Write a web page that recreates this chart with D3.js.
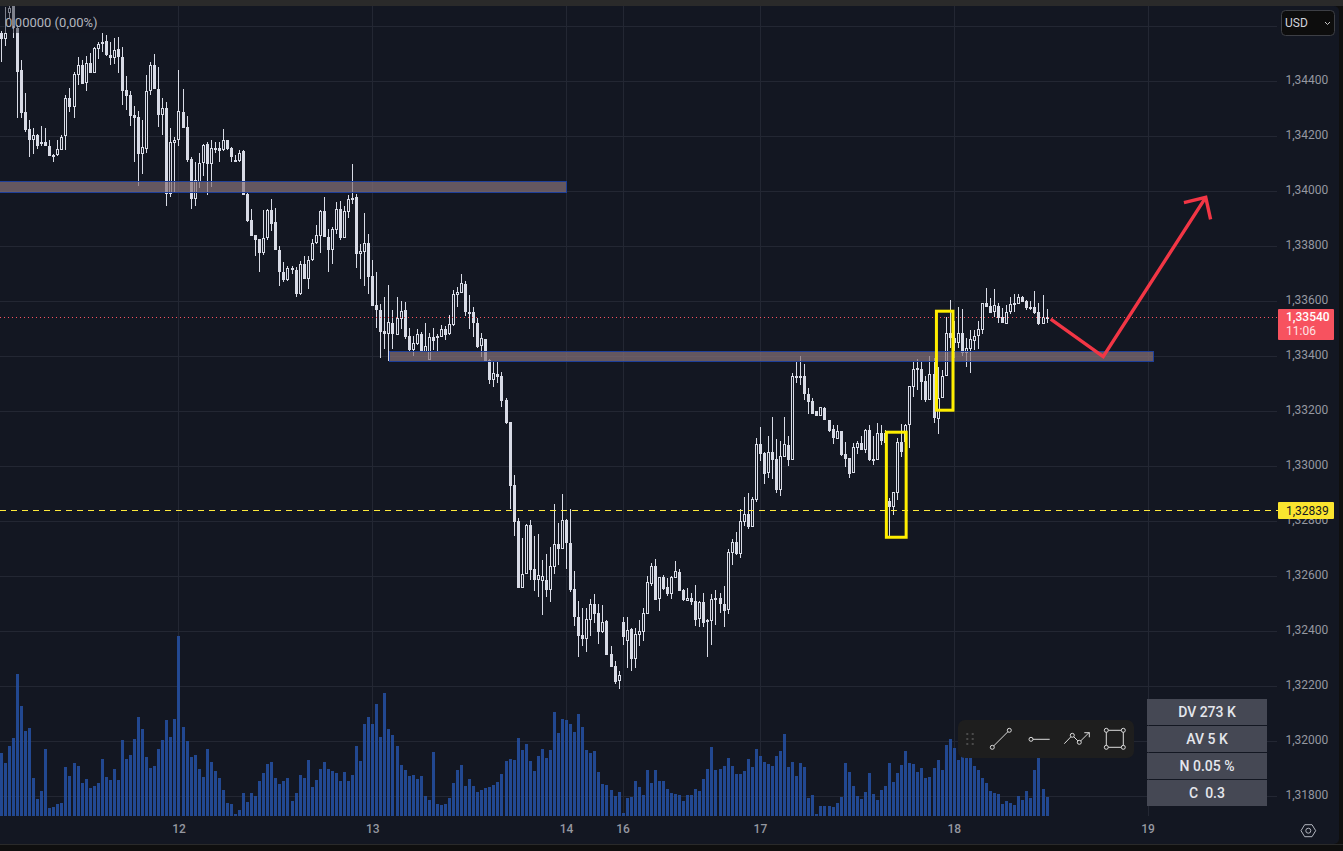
<!DOCTYPE html>
<html>
<head>
<meta charset="utf-8">
<script src="https://cdn.jsdelivr.net/npm/d3@7"></script>
<style>
  html, body { margin: 0; padding: 0; background: #0f0f0f; overflow: hidden; }
  svg { display: block; font-family: Roboto, sans-serif; }
</style>
</head>
<body>
<svg id="chart" width="1343" height="851"></svg>
<script>
// prices are in points: 133540 means 1,33540
const opens = [
  134575,134555,134648,134696,134593,134441,134288,134226,134186,134205,
  134178,134178,134165,134132,134132,134151,134200,134338,134308,134423,
  134460,134395,134467,134432,134517,134534,134547,134496,134485,134518,
  134489,134369,134351,134278,134271,134136,134155,134365,134460,134372,
  134278,134303,133991,134176,134185,134289,134234,134118,133972,134035,
  134102,134172,134100,134158,134157,134149,134186,134157,134114,134111,
  134147,133991,133896,133842,133827,133776,133831,133932,133889,133787,
  133707,133678,133720,133714,133627,133736,133682,133749,133811,133838,
  133928,133834,133787,133861,133936,133832,133925,133976,133979,133772,
  133779,133812,133692,133587,133569,133492,133481,133521,133478,133536,
  133569,133474,133423,133445,133481,133416,133387,133470,133474,133470,
  133499,133481,133514,133624,133630,133663,133561,133561,133521,133438,
  133463,133387,133314,133336,133329,133241,133161,132932,132801,132557,
  132608,132786,132626,132587,132583,132587,132550,132634,132717,132699,
  132805,132721,132554,132452,132387,132372,132441,132499,132467,132397,
  132437,132317,132274,132219,132434,132365,132408,132299,132387,132397,
  132463,132572,132637,132517,132597,132561,132536,132594,132616,132550,
  132510,132521,132510,132445,132506,132441,132437,132521,132521,132499,
  132477,132685,132725,132681,132797,132826,132779,132877,133081,133048,
  132976,133052,133026,132914,133034,133077,133023,133329,133329,133329,
  133263,133238,133201,133183,133212,133169,133136,133099,133129,133045,
  133030,132976,133067,133085,133060,133132,133027,133023,133121,133084,
  132874,132852,132903,133089,133089,133149,133289,133358,133354,133310,
  133241,133336,133172,133249,133329,133485,133467,133449,133485,133412,
  133427,133456,133474,133496,133594,133583,133561,133583,133543,133518,
  133561,133595,133590,133616,133601,133579,133579,133561,133518,133543
];
const highs = [
  134584,134669,134708,134702,134605,134478,134357,134260,134229,134209,
  134238,134229,134187,134135,134187,134206,134351,134375,134435,134489,
  134478,134492,134504,134526,134544,134577,134569,134544,134559,134560,
  134524,134420,134363,134311,134292,134260,134423,134469,134500,134451,
  134341,134326,134229,134199,134441,134372,134274,134124,134105,134138,
  134172,134178,134187,134181,134181,134226,134187,134161,134132,134151,
  134151,133997,133936,133842,133827,133932,133936,133971,133939,133802,
  133743,133729,133729,133726,133745,133763,133763,133827,133878,133932,
  133978,133862,133872,133962,133966,133947,133987,134099,133990,133809,
  133920,133845,133750,133707,133590,133616,133659,133569,133616,133601,
  133598,133503,133474,133499,133489,133521,133485,133503,133481,133514,
  133510,133550,133641,133652,133699,133674,133623,133579,133540,133485,
  133463,133390,133380,133380,133343,133249,133161,132968,132812,132739,
  132790,132805,132746,132754,132659,132681,132706,132863,132794,132899,
  132808,132845,132619,132510,132485,132485,132517,132536,132499,132496,
  132441,132347,132292,132256,132452,132452,132412,132412,132441,132485,
  132601,132648,132663,132597,132605,132594,132601,132656,132626,132554,
  132557,132539,132568,132510,132539,132445,132536,132550,132539,132565,
  132699,132736,132761,132845,132888,132903,132888,133103,133143,133052,
  133110,133179,133099,133092,133179,133110,133339,133379,133401,133372,
  133285,133249,133201,133216,133216,133169,133150,133150,133129,133089,
  133030,133085,133092,133110,133136,133150,133110,133158,133150,133132,
  132885,132907,133103,133154,133154,133292,133383,133390,133383,133329,
  133401,133394,133361,133350,133544,133605,133529,133579,133572,133467,
  133496,133496,133529,133594,133649,133612,133645,133594,133576,133587,
  133616,133627,133627,133619,133605,133601,133638,133594,133623,133572
];
const lows = [
  134472,134530,134629,134559,134268,134268,134217,134126,134134,134154,
  134163,134166,134130,134105,134129,134151,134152,134290,134268,134387,
  134391,134366,134432,134432,134480,134508,134492,134460,134463,134432,
  134314,134296,134238,134105,134020,134063,134141,134351,134372,134235,
  134205,133947,133981,133995,134163,134229,134108,133936,133947,134011,
  134056,133987,134017,134138,134108,134147,134151,134105,134111,134105,
  133988,133889,133838,133765,133705,133769,133823,133856,133785,133657,
  133671,133675,133700,133617,133623,133680,133646,133747,133808,133775,
  133833,133705,133736,133845,133823,133832,133904,133954,133721,133681,
  133656,133627,133583,133503,133394,133427,133383,133427,133478,133499,
  133463,133420,133401,133441,133416,133416,133387,133423,133420,133470,
  133459,133478,133510,133579,133630,133547,133499,133470,133430,133398,
  133380,133300,133289,133303,133216,133154,132845,132746,132557,132557,
  132608,132587,132547,132525,132459,132525,132507,132608,132641,132699,
  132626,132543,132419,132307,132347,132325,132383,132430,132354,132394,
  132314,132270,132208,132190,132350,132267,132256,132267,132347,132365,
  132463,132565,132514,132474,132550,132528,132517,132594,132546,132510,
  132510,132496,132419,132416,132416,132307,132350,132423,132467,132416,
  132463,132641,132677,132666,132783,132772,132779,132870,133019,132936,
  132957,132954,132903,132892,133034,133001,133023,133302,133296,133241,
  133190,133190,133183,133183,133169,133125,133081,133099,133038,132998,
  132958,132976,133045,133060,133049,133020,133005,133023,133078,133072,
  132747,132823,132878,133034,133084,133067,133253,133278,133241,133234,
  133241,133158,133118,133249,133329,133430,133394,133430,133401,133361,
  133339,133423,133427,133481,133579,133558,133543,133521,133521,133518,
  133554,133561,133590,133598,133569,133569,133554,133514,133518,133521
];
const closes = [
  134555,134575,134666,134593,134435,134286,134223,134185,134204,134165,
  134175,134166,134130,134130,134153,134198,134338,134308,134427,134460,
  134391,134466,134432,134520,134535,134542,134494,134485,134514,134488,
  134366,134347,134275,134267,134136,134161,134364,134460,134372,134278,
  134303,133991,134178,134186,134292,134229,134114,133972,134040,134102,
  134168,134100,134157,134154,134147,134186,134154,134125,134112,134138,
  133988,133892,133838,133823,133776,133831,133932,133882,133785,133705,
  133678,133720,133714,133627,133735,133682,133749,133811,133840,133928,
  133833,133787,133862,133936,133832,133929,133971,133969,133772,133783,
  133811,133689,133583,133569,133489,133481,133525,133481,133540,133565,
  133470,133423,133449,133481,133416,133438,133470,133456,133467,133499,
  133478,133518,133626,133634,133666,133561,133558,133521,133434,133467,
  133380,133314,133338,133325,133238,133158,132928,132797,132557,132608,
  132786,132623,132587,132605,132601,132550,132637,132717,132699,132805,
  132721,132550,132452,132383,132372,132445,132499,132463,132397,132434,
  132314,132270,132216,132241,132379,132405,132299,132390,132401,132467,
  132579,132637,132514,132597,132554,132536,132597,132619,132546,132514,
  132521,132506,132441,132506,132430,132434,132517,132514,132499,132474,
  132688,132725,132681,132801,132826,132779,132881,133081,133045,132972,
  133052,133023,132914,133037,133081,133023,133329,133326,133326,133263,
  133234,133190,133183,133216,133169,133129,133103,133129,133041,133027,
  132972,133070,133085,133060,133132,133023,133023,133121,133092,133121,
  132852,132906,133089,133052,133150,133292,133354,133354,133307,133241,
  133336,133176,133247,133329,133485,133467,133449,133485,133412,133430,
  133463,133474,133499,133594,133579,133558,133587,133539,133521,133561,
  133590,133592,133616,133598,133576,133576,133558,133518,133543,133540
];
const volumes = [
  63,53,70,78,142,110,85,88,38,17,
  25,67,8,9,12,13,49,40,53,50,
  33,37,28,30,33,57,39,36,47,36,
  76,57,61,77,99,87,59,48,50,67,
  76,96,79,97,180,89,75,59,61,47,
  39,67,54,45,38,26,13,12,2,6,
  23,14,23,20,35,43,52,54,38,32,
  35,38,15,23,41,38,56,29,36,47,
  54,47,45,43,35,44,35,41,70,55,
  92,99,92,112,79,123,87,81,70,51,
  46,40,41,37,40,20,16,64,12,11,
  12,18,33,46,51,30,37,30,24,26,
  28,29,31,34,42,55,57,56,78,66,
  72,55,45,60,67,58,66,104,83,97,
  96,92,84,102,89,66,63,65,44,32,
  31,26,20,24,3,18,19,35,29,21,
  46,33,46,35,35,27,23,22,21,15,
  21,21,27,25,37,47,69,46,47,50,
  58,50,42,42,45,57,49,67,60,54,
  52,50,60,65,82,49,54,40,53,49,
  18,21,2,10,10,10,9,13,19,53,
  44,30,20,17,24,43,22,16,26,30,
  53,34,43,51,65,53,52,44,48,38,
  39,48,56,46,71,77,68,56,60,62,
  60,50,46,38,33,25,23,22,12,15,
  13,11,20,16,25,18,46,58,27,19
];

const priceTicks = [131800,132000,132200,132400,132600,132800,133000,133200,133400,133600,133800,134000,134200,134400,134600];
const priceLabels = priceTicks.slice(0,-1); // the top line sits behind the USD button
const dayTicks = [44,92,140,154,188,236,284];
const dayLabels = ["12","13","14","16","17","18","19"];

const lastPrice = 133540;
const lastTimer = "11:06";
const linePrice = 132839;

// zones: [start bar, end bar, top price, bottom price]
const zones = [[-1,140,134035,133995],[96.1,285.2,133418,133380]];
// yellow boxes: [start bar, end bar, top price, bottom price]
const boxes = [[219.2,224.1,133124,132742],[231.6,235.7,133564,133204]];
// red arrow [bar, price]
const arrowPath = [[259.9,133535],[272.9,133399],[298.3,133978]];
const arrowHead = [[292.9,133959],[298.3,133978],[299.5,133898]];

const statLabels = ["DV 273 K","AV 5 K","N 0.05 %","C  0.3"];

const candleColor = "#d8dbe6", panelColor = "#131722", gridColor = "#232733";
const fmt = p => (p / 1e5).toFixed(5).replace(".", ",");

const svg = d3.select("#chart");
const x = d3.scaleLinear().domain([0,284]).range([1.33,1148]);
const y = d3.scaleLinear().domain([134000,131800]).range([191.3,796.3]);
const yVol = d3.scaleLinear().domain([0,180]).range([816,636]);
const px = v => Math.floor(v) + 0.5;

// page frame
svg.append("rect").attr("width",1343).attr("height",6).attr("fill","#2a2a2a");
svg.append("rect").attr("y",844).attr("width",1343).attr("height",1).attr("fill","#2a2a2a");
svg.append("rect").attr("x",-6).attr("y",6).attr("width",1345).attr("height",838)
  .attr("rx",5).attr("fill",panelColor);

const defs = svg.append("defs");
defs.append("clipPath").attr("id","plot").append("rect")
  .attr("x",0).attr("y",6).attr("width",1278).attr("height",838);

// grid
svg.append("g").selectAll("line").data(priceTicks).join("line")
  .attr("x1",0).attr("x2",1277)
  .attr("y1",d => px(y(d))).attr("y2",d => px(y(d)))
  .attr("stroke",gridColor);
svg.append("g").selectAll("line").data(dayTicks).join("line")
  .attr("x1",d => px(x(d))).attr("x2",d => px(x(d)))
  .attr("y1",6).attr("y2",816)
  .attr("stroke",gridColor);

const plot = svg.append("g").attr("clip-path","url(#plot)");

// volume
plot.append("g").selectAll("rect").data(volumes).join("rect")
  .attr("x",(d,i) => Math.floor(x(i)) - 1)
  .attr("width",3)
  .attr("y",d => yVol(d))
  .attr("height",d => yVol(0) - yVol(d))
  .attr("fill","#2450a0")
  .attr("opacity",0.88);

// candles
const bars = d3.range(opens.length);
const candles = plot.append("g");
candles.selectAll("line").data(bars).join("line")
  .attr("x1",i => px(x(i))).attr("x2",i => px(x(i)))
  .attr("y1",i => Math.round(y(highs[i]))).attr("y2",i => Math.round(y(lows[i])))
  .attr("stroke",candleColor);
candles.selectAll("rect").data(bars).join("rect")
  .each(function(i) {
    const top = Math.round(y(Math.max(opens[i],closes[i])));
    const bot = Math.round(y(Math.min(opens[i],closes[i])));
    const h = Math.max(bot - top, 2);
    const r = d3.select(this);
    if (closes[i] >= opens[i]) {
      r.attr("x",Math.floor(x(i)) - 0.5).attr("y",top + 0.5)
        .attr("width",2).attr("height",h - 1)
        .attr("fill",panelColor).attr("stroke",candleColor);
    } else {
      r.attr("x",Math.floor(x(i)) - 1).attr("y",top)
        .attr("width",3).attr("height",h)
        .attr("fill",candleColor);
    }
  });

// zones
plot.append("g").selectAll("rect").data(zones).join("rect")
  .attr("x",d => px(x(d[0])))
  .attr("width",d => Math.round(x(d[1]) - x(d[0])))
  .attr("y",d => px(y(d[2])))
  .attr("height",d => Math.round(y(d[3]) - y(d[2])))
  .attr("fill","#88747a").attr("fill-opacity",0.7)
  .attr("stroke","#1e3f99");

// last price and horizontal line
plot.append("line").attr("x1",0).attr("x2",1277)
  .attr("y1",px(y(lastPrice))).attr("y2",px(y(lastPrice)))
  .attr("stroke","#f7525f").attr("stroke-dasharray","1 3");
plot.append("line").attr("x1",0).attr("x2",1278)
  .attr("y1",px(y(linePrice))).attr("y2",px(y(linePrice)))
  .attr("stroke","#ffeb3b").attr("stroke-dasharray","6 5");

// yellow boxes
plot.append("g").selectAll("rect").data(boxes).join("rect")
  .attr("x",d => x(d[0])).attr("width",d => x(d[1]) - x(d[0]))
  .attr("y",d => y(d[2])).attr("height",d => y(d[3]) - y(d[2]))
  .attr("fill","none").attr("stroke","#ffee00").attr("stroke-width",3);

// red arrow
const arrowLine = d3.line().x(d => x(d[0])).y(d => y(d[1]));
[arrowPath, arrowHead].forEach(pts => {
  plot.append("path").attr("d",arrowLine(pts))
    .attr("fill","none").attr("stroke","#f23645")
    .attr("stroke-width",3.4).attr("stroke-linejoin","miter");
});

// axes
const yAxis = svg.append("g").attr("transform","translate(1285.5,0)")
  .call(d3.axisRight(y).tickValues(priceLabels).tickFormat(fmt).tickSize(0).tickPadding(0));
const xAxis = svg.append("g").attr("transform","translate(-0.5,816)")
  .call(d3.axisBottom(x).tickValues(dayTicks).tickFormat((d,i) => dayLabels[i]).tickSize(0).tickPadding(8.5));
[yAxis, xAxis].forEach(a => {
  a.select(".domain").remove();
  a.selectAll("text").attr("font-family","Roboto, sans-serif").attr("font-size",12).attr("fill","#9598a1");
});
yAxis.selectAll("text").attr("y",-2);
xAxis.selectAll("text").attr("font-weight",500);

// legend
svg.append("rect").attr("x",4).attr("y",6).attr("width",96).attr("height",27)
  .attr("fill",panelColor).attr("opacity",0.45);
svg.append("text").attr("x",5).attr("y",27)
  .attr("font-size",13).attr("fill","#b2b5be").text("0,00000 (0,00%)");

// price badges
svg.append("rect").attr("x",1278).attr("y",309).attr("width",56).attr("height",31)
  .attr("rx",1).attr("fill","#f7525f");
svg.append("text").attr("x",1286).attr("y",321).attr("font-size",12).attr("font-weight",500)
  .attr("fill","#ffffff").text(fmt(lastPrice));
svg.append("text").attr("x",1286).attr("y",335).attr("font-size",12)
  .attr("fill","#fde3e5").text(lastTimer);
svg.append("rect").attr("x",1278).attr("y",502).attr("width",56).attr("height",17)
  .attr("rx",1).attr("fill","#fbe52f");
svg.append("text").attr("x",1286).attr("y",514.5).attr("font-size",12)
  .attr("fill","#131722").text(fmt(linePrice));

// currency button
svg.append("rect").attr("x",1281.5).attr("y",10.5).attr("width",53).attr("height",25)
  .attr("rx",4).attr("fill","#0d0d0d").attr("stroke","#3d3f45");
svg.append("text").attr("x",1285).attr("y",27).attr("font-size",12)
  .attr("fill","#d1d4dc").text("USD");
svg.append("path").attr("d","M1325 22l2.5 2.5l2.5 -2.5")
  .attr("fill","none").attr("stroke","#c8c8c8");

// drawing toolbar
const tools = svg.append("g");
tools.append("rect").attr("x",958).attr("y",720).attr("width",176).attr("height",38)
  .attr("rx",7).attr("fill","#1e1e1e");
const dotX = [967.3,972.7], dotY = [734,739,744];
dotX.forEach(a => dotY.forEach(b => {
  tools.append("rect").attr("x",a - 1).attr("y",b - 1).attr("width",2).attr("height",2).attr("fill","#4a4a4a");
}));
const toolLines = [
  "M992.3 747.3L1009.3 730.3",
  "M1031 739.3H1049.7",
  "M1064.3 743.7L1072.3 735.3L1079.3 742.3L1089.3 732.3",
  "M1084.3 732.7H1089.3V737.3",
  "M1106.3 730.3H1123.3V747.3H1106.3Z"
];
tools.selectAll("path").data(toolLines).join("path")
  .attr("d",d => d).attr("fill","none").attr("stroke","#dcdcdc");
const toolDots = [[992.3,747.3],[1009.3,730.3],[1031,739.3],[1072.3,735.3],[1079.3,742.3],
  [1106.3,730.3],[1123.3,730.3],[1106.3,747.3],[1123.3,747.3]];
tools.selectAll("circle").data(toolDots).join("circle")
  .attr("cx",d => d[0]).attr("cy",d => d[1]).attr("r",2)
  .attr("fill","#1e1e1e").attr("stroke","#dcdcdc");

// stats table
const stats = svg.append("g").selectAll("g").data(statLabels).join("g")
  .attr("transform",(d,i) => `translate(1147,${699 + i * 27})`);
stats.append("rect").attr("width",120).attr("height",26).attr("fill","#454854");
stats.append("text").attr("x",60).attr("y",18).attr("text-anchor","middle")
  .attr("font-size",14).attr("font-weight",500).attr("fill","#e4e6ec")
  .style("white-space","pre").text(d => d);

// settings icon
svg.append("path").attr("d","M1301 830.7L1304.7 824.7H1312L1315.7 830.7L1312 836.7H1304.7Z")
  .attr("fill","none").attr("stroke","#b2b5be");
svg.append("circle").attr("cx",1308.3).attr("cy",830.7).attr("r",2.5)
  .attr("fill","none").attr("stroke","#b2b5be");
</script>
</body>
</html>
